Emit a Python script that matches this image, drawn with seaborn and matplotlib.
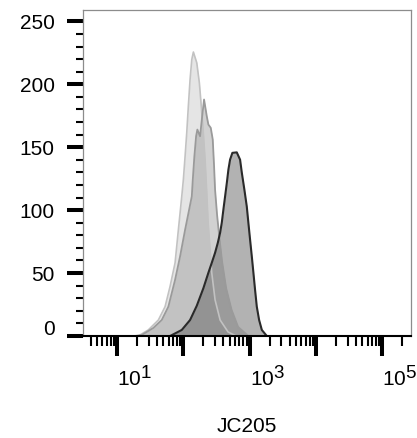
import numpy as np
import pandas as pd
import matplotlib
matplotlib.use("Agg")
import matplotlib.pyplot as plt
import matplotlib.ticker as mticker
import matplotlib.transforms as mtransforms
import matplotlib._mathtext as _mt
import seaborn as sns

# ---- data (intensity, count) ----
light_x = [15.8, 20.9, 29.6, 42.0, 53.0, 63.0, 75.0, 84.1, 94.6, 100.0, 106.2, 112.5,
           118.9, 126.2, 134.0, 141.6, 159.2, 174.2, 182.8, 198.2, 212.3, 223.9, 236.0,
           252.9, 267.9, 300.6, 358.1, 472.1, 623.7]
light_y = [0, 0, 4.8, 12.7, 23.3, 39.3, 58.1, 84.4, 110.9, 124.2, 142.8, 161.6,
           182.6, 203.8, 219.7, 225.6, 217.1, 201.2, 187.9, 164.0, 140.1, 116.2, 90.0,
           68.5, 50.2, 28.7, 12.7, 3.2, 0]

medium_x = [18.6, 23.6, 35.3, 47.2, 59.4, 75.0, 89.1, 106.2, 134.0, 138.7, 146.6, 155.6,
            162.6, 178.6, 191.4, 205.1, 225.4, 238.2, 258.8, 277.3, 290.4, 300.6, 322.1,
            351.6, 383.7, 440.6, 533.3, 668.3, 955.0]
medium_y = [0, 0.8, 6.4, 12.7, 23.3, 44.6, 63.1, 84.4, 110.9, 124.2, 142.8, 158.7,
            164.0, 158.7, 173.6, 187.9, 174.6, 168.0, 165.4, 156.1, 134.8, 116.2, 96.3,
            76.4, 58.9, 38.2, 20.7, 7.2, 0]

dark_x = [63.1, 94.6, 126.2, 159.2, 178.6, 200.4, 238.2, 267.9, 300.6, 330.4, 358.1,
          379.3, 400.9, 425.6, 451.9, 477.5, 505.8, 548.3, 638.3, 716.1, 760.3, 831.8,
          903.6, 955.0, 1013.9, 1076.4, 1137.6, 1205.0, 1279.4, 1386.8, 1524.0, 1811.3]
dark_y = [0, 4.8, 12.7, 24.0, 31.0, 38.0, 50.2, 58.1, 66.1, 74.0, 82.0,
          90.0, 100.3, 110.9, 121.6, 132.2, 140.1, 145.5, 145.9, 140.1, 129.8, 116.2,
          102.9, 90.0, 76.4, 63.1, 50.2, 36.6, 23.3, 12.7, 4.8, 0]

y_ticks = [0, 50, 100, 150, 200, 250]
x_major = [10, 100, 1000, 10000, 100000]
x_labels = ["$10^{1}$", "", "$10^{3}$", "", "$10^{5}$"]
x_title = "JC205"

# ---- figure ----
sns.set_style("white")
plt.rcParams["font.family"] = ["Liberation Sans", "DejaVu Sans"]
plt.rcParams["mathtext.fontset"] = "custom"
plt.rcParams["mathtext.rm"] = "Liberation Sans"
plt.rcParams["mathtext.it"] = "Liberation Sans"
plt.rcParams["text.color"] = "black"
plt.rcParams["xtick.color"] = "black"
plt.rcParams["ytick.color"] = "black"
plt.rcParams["axes.labelcolor"] = "black"
_mt.SHRINK_FACTOR = 0.9

fig = plt.figure(figsize=(4.17, 4.38), dpi=100)
ax = fig.add_axes([83 / 417, 1 - 336 / 438, (411 - 83) / 417, (336 - 10) / 438])

series = [
    (light_x, light_y, "#cccccc", 0.5, "#c2c2c2", 1.2),
    (medium_x, medium_y, "#999999", 0.45, "#9a9a9a", 1.3),
    (dark_x, dark_y, "#666666", 0.5, "#2a2a2a", 1.5),
]
for xs, ys, fc, a, ec, lw in series:
    df = pd.DataFrame({"x": xs, "y": ys})
    ax.fill_between(df["x"], df["y"], 0, color=fc, alpha=a, linewidth=0)
    sns.lineplot(data=df, x="x", y="y", ax=ax, color=ec, linewidth=lw, sort=False)

ax.set_xscale("log")
ax.set_xlim(3.07, 2.7e5)
ax.set_ylim(0, 259)

ax.set_yticks(y_ticks)
ax.set_yticklabels([str(v) for v in y_ticks], fontsize=15, color="black")
ax.yaxis.set_minor_locator(mticker.MultipleLocator(10))

ax.xaxis.set_major_locator(mticker.FixedLocator(x_major))
ax.xaxis.set_major_formatter(mticker.FixedFormatter(x_labels))
ax.xaxis.set_minor_locator(mticker.LogLocator(base=10, subs=np.arange(2, 10), numticks=20))
ax.xaxis.set_minor_formatter(mticker.NullFormatter())
shift_left = mtransforms.ScaledTranslation(-3 / 100, 0, fig.dpi_scale_trans)
for lab in ax.get_xticklabels():
    lab.set_horizontalalignment("left")
    lab.set_fontsize(15)
    lab.set_color("black")
    lab.set_transform(lab.get_transform() + shift_left)

ax.tick_params(axis="y", which="major", direction="out", length=11.5, width=2.9,
               color="black", pad=9, left=True)
ax.tick_params(axis="y", which="minor", direction="out", length=5, width=1.5,
               color="black", left=True)
ax.tick_params(axis="x", which="major", direction="out", length=14.5, width=2.9,
               color="black", pad=7, bottom=True)
ax.tick_params(axis="x", which="minor", direction="out", length=7, width=1.5,
               color="black", bottom=True)

# lift the "0" label slightly, as in the reference
ylabs = ax.get_yticklabels()
ylabs[0].set_transform(ylabs[0].get_transform() +
                       mtransforms.ScaledTranslation(0, 6 / 72, fig.dpi_scale_trans))

ax.set_xlabel(x_title, fontsize=15, labelpad=19, color="black")
ax.set_ylabel("")

for side in ["top", "right", "left"]:
    ax.spines[side].set_color("#8c8c8c")
    ax.spines[side].set_linewidth(0.9)
ax.spines["bottom"].set_color("black")
ax.spines["bottom"].set_linewidth(1.5)

fig.savefig("out.png", dpi=100)
